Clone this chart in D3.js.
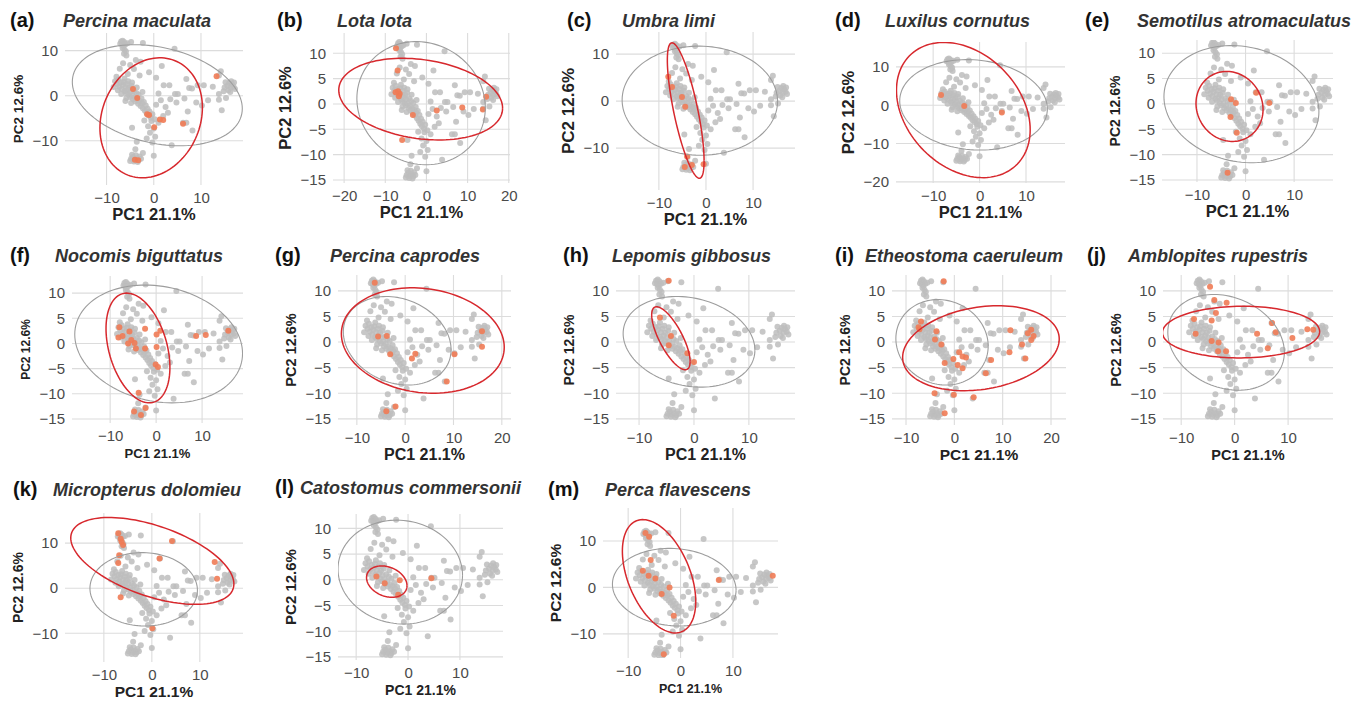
<!DOCTYPE html>
<html>
<head>
<meta charset="utf-8">
<script src="https://cdn.jsdelivr.net/npm/d3@7"></script>
<style>
    body { margin: 0; background: #fff; }
    svg text { font-family: "Liberation Sans", Arial, sans-serif; }
</style>
</head>
<body>
<div id="chart"></div>
<script>

// PC1 / PC2 scores of all sites (grey points, same in every panel)
var siteScores = [
    [-6.9,12.0],[-6.6,12.2],[-6.3,11.9],[-7.1,11.5],[-6.7,11.3],[-6.4,11.0],[-6.0,11.4],[-6.6,10.6],[-6.2,10.2],
    [-5.9,9.8],[-6.3,9.3],[-5.8,8.9],[-4.8,11.9],[-2.3,11.7],[-5.6,11.6],
    [4.4,10.4],[-3.8,7.9],[1.7,6.6],[-6.5,7.2],[-5.0,6.8],[-4.2,5.9],[-2.8,7.5],[-1.0,5.2],[-7.2,6.0],[-5.5,4.8],
    [-3.0,4.5],[0.5,4.0],
    [-8.2,3.2],[-7.8,2.6],[-7.5,3.6],[-7.3,2.0],[-7.0,2.9],[-6.8,1.5],[-6.6,2.4],[-6.4,3.1],[-6.2,1.0],[-6.0,1.9],
    [-5.9,0.6],[-5.7,2.6],[-5.5,1.3],[-5.3,0.2],[-5.2,1.8],[-5.0,-0.3],[-4.9,0.9],[-4.7,2.2],[-4.5,0.1],[-4.4,-0.8],
    [-4.2,1.1],[-4.0,-0.4],[-3.9,-1.3],[-3.7,0.6],[-3.5,-0.9],[-3.3,-1.8],[-3.2,0.2],[-3.0,-1.2],[-2.8,-2.3],
    [-2.6,-0.6],[-2.5,-1.7],[-2.3,-2.8],[-2.1,-1.4],[-1.9,-3.3],[-1.7,-2.2],[-1.5,-3.9],[-1.3,-2.9],[-1.1,-4.4],
    [-0.9,-3.5],[-0.6,-4.9],[-0.3,-4.1],[-0.5,-5.6],[0.2,-5.2],[-7.6,1.2],[-6.9,0.4],[-5.8,-0.5],[-4.8,-1.6],
    [-6.2,3.8],[-5.4,3.2],[-4.6,2.9],[-3.6,1.8],[-2.4,0.8],[-8.5,1.9],[-7.9,4.2],[-6.0,-1.2],
    [-1.2,-6.8],[0.0,-7.3],[-0.8,-8.2],[1.0,-6.0],[-2.0,-5.5],[-4.6,-7.1],[-3.6,-10.2],[-3.9,-11.9],[-2.3,-12.7],
    [-0.3,-10.4],[0.3,-9.1],[0.0,-13.3],[3.8,-11.0],[-1.5,-9.5],
    [-4.4,-13.6],[-4.0,-14.2],[-3.6,-13.9],[-3.2,-14.3],[-4.8,-14.0],[-4.2,-14.6],[-3.0,-13.5],[-3.8,-13.2],
    [-4.6,-13.1],[-2.7,-14.0],[-3.4,-14.7],[-5.0,-14.5],
    [2.1,2.3],[3.3,2.3],[4.5,0.4],[5.1,0.4],[6.9,3.7],[7.5,1.7],[8.1,1.6],[9.3,2.3],[10.6,2.3],[4.8,-1.5],
    [6.5,-0.6],[7.2,-3.5],[10.2,-2.2],[13.8,-0.9],[14.4,-3.2],[13.8,0.4],[6.2,-6.0],[6.9,-6.0],[8.2,-7.7],
    [1.5,-1.0],[2.5,-2.5],[1.0,0.5],[3.0,-3.8],[2.0,-4.5],[0.5,-2.0],[11.5,-1.0],[9.0,-1.5],[12.5,2.0],[3.5,-0.8],
    [13.8,4.5],[14.2,5.4],[15.2,3.0],[15.6,2.2],[16.0,2.8],[16.3,1.8],[16.6,2.5],[16.9,2.0],[17.2,1.5],[15.8,1.2],
    [16.4,3.2],[17.0,2.9],[15.0,1.8],[16.2,0.8],[15.3,-0.5],[14.8,1.0]
];

var panelLetters = ["(a)", "(b)", "(c)", "(d)", "(e)", "(f)", "(g)", "(h)", "(i)", "(j)", "(k)", "(l)", "(m)"];
var speciesNames = ["Percina maculata", "Lota lota", "Umbra limi", "Luxilus cornutus", "Semotilus atromaculatus",
    "Nocomis biguttatus", "Percina caprodes", "Lepomis gibbosus", "Etheostoma caeruleum", "Amblopites rupestris",
    "Micropterus dolomieu", "Catostomus commersonii", "Perca flavescens"];

// sites where each species was found (orange points)
var percinaMaculata = [[13.3,4.3],[-4.4,1.5],[-3.5,-0.5],[-1.4,-4.1],[-1.0,-4.3],[1.3,-5.3],[2.0,-5.4],[0.1,-7.0],[6.2,-6.2],[-4.0,-14.2],[-3.3,-14.3]];
var lotaLota = [[-7.4,11.0],[-7.0,6.6],[-6.9,2.5],[-6.5,2.0],[-6.7,1.5],[-7.5,2.3],[-3.3,-2.2],[2.5,-1.3],[8.7,-0.7],[13.7,-1.1],[14.5,1.4],[-5.9,-7.1]];
var umbraLimi = [[-8.0,5.2],[-7.2,3.0],[-5.1,0.9],[-4.4,-1.2],[-4.0,-11.8],[-3.0,-13.6],[-0.5,-13.4],[-4.5,-14.0]];
var luxilusCornutus = [[-8.3,2.7],[-3.3,-0.2],[4.8,-1.9]];
var semotilusAtromaculatus = [[2.2,2.2],[4.9,0.2],[-3.0,0.9],[-2.0,0.2],[-3.1,-2.6],[-1.8,-5.7],[-3.7,-13.6]];
var nocomisBiguttatus = [[-8.0,3.2],[-7.3,1.5],[-5.8,2.4],[-5.4,0.7],[-4.7,0.1],[-2.4,2.9],[-4.4,-1.0],[-2.4,-1.0],[0.1,1.8],
    [0.1,-0.7],[0.9,2.5],[-0.1,-4.2],[0.4,-4.7],[10.8,1.7],[8.7,1.5],[15.7,2.5],[-3.8,-9.8],[-4.8,-13.5],[-3.3,-14.2],
    [-2.3,-12.8],[-6.1,0.0],[-8.2,1.2]];
var percinaCaprodes = [[-6.3,11.6],[-5.6,1.1],[-3.8,1.2],[-3.1,-2.4],[1.4,-3.2],[2.1,-2.3],[10.2,-2.4],[8.6,-7.7],[15.9,2.1],[15.9,-0.9],[-2.0,-12.6],[-3.9,-13.5]];
var lepomisGibbosus = [[-4.6,12.0],[-6.2,4.8],[-4.2,1.2],[-4.6,-0.6],[-1.2,-2.2],[0.0,-3.9]];
var etheostomaCaeruleum = [[-2.2,11.9],[-6.9,4.0],[-7.4,2.9],[-7.2,2.5],[-3.7,2.1],[-4.0,0.5],[-2.7,-0.5],[-2.0,-4.1],[1.0,-2.0],
    [1.7,-2.8],[2.4,-3.0],[0.7,-4.5],[1.7,-5.1],[-0.2,-3.3],[7.6,-3.5],[6.5,-6.1],[11.6,2.3],[11.4,-2.0],[14.0,-0.5],
    [14.7,-3.2],[15.2,1.7],[15.9,2.4],[16.4,1.2],[15.9,0.4],[-4.1,-10.0],[-0.1,-10.3],[4.0,-10.8],[-2.0,-13.9]];
var amblopitesRupestris = [[-4.6,10.8],[-3.8,8.2],[-1.5,7.7],[-3.5,5.7],[-7.6,4.5],[-4.3,4.2],[-7.3,1.6],[-4.3,0.2],[-3.0,-0.1],
    [-3.1,-1.8],[-1.6,-1.8],[4.2,1.6],[6.2,-1.2],[7.0,3.7],[7.7,1.9],[10.8,0.8],[13.6,2.5],[14.7,2.4]];
var micropterusDolomieu = [[-7.0,12.2],[-6.5,11.0],[-6.3,10.3],[-6.0,9.6],[-6.8,7.3],[-7.0,5.6],[-6.5,-2.0],[4.2,10.5],[1.6,6.6],[13.1,5.8],[13.6,2.1],[0.1,-8.9]];
var catostomusCommersonii = [[-6.1,0.65],[-4.5,-0.65],[-1.6,-0.1],[-1.9,-2.9],[4.5,0.3]];
var percaFlavescens = [[-6.7,11.7],[-6.0,10.9],[-5.7,5.9],[-7.2,3.6],[-6.1,2.5],[-4.8,1.9],[-2.1,0.0],[-3.6,-1.4],[-1.3,-6.1],[7.3,1.6],[17.6,2.5],[-3.2,-14.4]];

var speciesSites = [percinaMaculata, lotaLota, umbraLimi, luxilusCornutus, semotilusAtromaculatus, nocomisBiguttatus,
    percinaCaprodes, lepomisGibbosus, etheostomaCaeruleum, amblopitesRupestris, micropterusDolomieu,
    catostomusCommersonii, percaFlavescens];

// ellipses: [centre PC1, centre PC2, half width, half height, PC1 at the top of the ellipse]
var otherEllipses = [
    [0.75,0.1,18.0,11.2,-4.0], [-1.3,0.15,15.6,12.15,-2.5], [-1.3,0.1,16.5,11.6,-1.5], [-1.3,0.1,15.9,11.8,-2.7],
    [-0.85,-0.05,15.95,11.55,-2.9], [0.55,-0.1,18.25,11.7,-2.4], [-1.65,0.25,11.15,8.65,-3.9], [-0.9,0.05,12.0,8.85,-3.1],
    [-2.55,-0.05,9.55,8.35,-3.4], [-1.6,-0.05,10.9,9.35,-3.9], [-1.7,-0.25,11.2,8.15,-2.0], [-1.5,1.5,12.0,10.1,-2.2],
    [-1.2,0.05,11.8,8.35,-2.1]
];
var speciesEllipses = [
    [-0.55,-4.9,10.85,13.3,1.3], [-1.4,0.95,19.9,8.05,-5.8], [-4.3,-2.0,3.9,14.4,-7.2], [-3.5,-1.25,14.4,17.65,-7.7],
    [-3.3,-0.5,6.9,6.9,-3.9], [-3.95,-0.9,6.95,10.9,-6.4], [3.65,0.3,16.85,10.3,1.5], [-4.2,0.75,3.5,6.15,-6.8],
    [5.5,-1.2,16.2,8.3,9.0], [1.2,1.95,14.7,5.05,1.5], [0.1,6.05,17.0,9.65,-8.9], [-4.1,-0.35,3.9,3.05,-5.1],
    [-4.1,2.4,7.0,12.2,-7.2]
];

// axis ranges and ticks
var xDomains = [[-18.8,18.9],[-22.7,20.3],[-19.1,18.9],[-18.0,18.4],[-17.2,18.0],[-18.3,18.9],[-13.9,21.9],
    [-14.2,18.4],[-12.9,23.1],[-13.4,18.4],[-18.1,19.0],[-13.5,18.3],[-14.8,18.6]];
var yDomains = [[-19.8,13.9],[-15.6,14.0],[-18.9,14.7],[-20.3,16.5],[-15.4,12.6],[-15.8,13.4],[-16.2,13.1],
    [-16.2,13.1],[-16.2,13.1],[-16.2,13.1],[-16.4,16.7],[-15.6,12.8],[-15.2,17.1]];
var ticksA = [-10, 0, 10];
var ticksB = [-20, -10, 0, 10, 20];
var ticksC = [-10, 0, 10, 20];
var ticksD = [-20, -10, 0, 10];
var ticksFive = [-15, -10, -5, 0, 5, 10];
var xTicks = [ticksA, ticksB, ticksA, ticksA, ticksA, ticksA, ticksC, ticksA, ticksC, ticksA, ticksA, ticksA, ticksA];
var yTicks = [ticksA, ticksFive, ticksA, ticksD, ticksFive, ticksFive, ticksFive, ticksFive, ticksFive, ticksFive, ticksA, ticksFive, ticksA];

var xTitle = "PC1 21.1%";
var yTitle = "PC2 12.6%";


// layout: plot box [left, top, right, bottom], title [letter x, name x, baseline],
// axis title sizes [x title, y title] (the panels were scaled unevenly)
var plotBoxes = [[65,33,243,185],[333,33,510,183],[616,32,795,190],[896,42,1065,183],[1162,40,1333,182],
    [72,276,243,423],[338,275,511,425],[616,275,795,425],[892,275,1066,425],[1163,275,1333,425],
    [65,513,243,662],[338,514,503,660],[603,508,778,658]];
var titleSpots = [[10,63,27],[277,337,27],[567,622,27],[835,885,27],[1085,1137,27],
    [10,55,262],[275,330,262],[563,612,262],[835,865,262],[1087,1128,262],
    [13,53,496],[275,300,494],[548,605,496]];
var axisTitleSizes = [[16.5,13.5],[16.5,16.5],[16.5,17],[16.5,16.5],[16.5,14],
    [13,12],[16,14.5],[16,14],[15.5,14],[14.5,14.5],
    [15.5,14],[14,15],[12.5,15.5]];


/*
 *  PcaPanel - one small multiple
 */

PcaPanel = function(_svg, _i) {
    this.svg = _svg;
    this.i = _i;
    this.initVis();
}

PcaPanel.prototype.initVis = function() {
    var vis = this;
    var b = plotBoxes[vis.i];

    vis.x = d3.scaleLinear().domain(xDomains[vis.i]).range([b[0], b[2]]);
    vis.y = d3.scaleLinear().domain(yDomains[vis.i]).range([b[3], b[1]]);

    vis.g = vis.svg.append("g").attr("class", "panel");

    vis.g.append("clipPath").attr("id", "clip" + vis.i)
        .append("rect")
        .attr("x", b[0]).attr("y", b[1])
        .attr("width", b[2] - b[0]).attr("height", b[3] - b[1]);

    vis.updateVis();
}

PcaPanel.prototype.ellipsePath = function(e) {
    var vis = this;
    var delta = Math.acos(Math.max(-1, Math.min(1, (e[4] - e[0]) / e[2])));
    var pts = d3.range(0, 121).map(function(k) {
        var t = k / 120 * 2 * Math.PI;
        return [e[0] + e[2] * Math.cos(t), e[1] + e[3] * Math.cos(t - delta)];
    });
    return d3.line()
        .x(function(d) { return vis.x(d[0]); })
        .y(function(d) { return vis.y(d[1]); })(pts);
}

PcaPanel.prototype.updateVis = function() {
    var vis = this;
    var b = plotBoxes[vis.i];
    var ts = titleSpots[vis.i];
    var sz = axisTitleSizes[vis.i];

    // grid
    vis.g.selectAll(".vgrid")
        .data(xTicks[vis.i])
        .enter().append("line")
        .attr("x1", function(d) { return vis.x(d); })
        .attr("x2", function(d) { return vis.x(d); })
        .attr("y1", b[1]).attr("y2", b[3])
        .attr("stroke", "#dcdcdc").attr("stroke-width", 1.1);

    vis.g.selectAll(".hgrid")
        .data(yTicks[vis.i])
        .enter().append("line")
        .attr("y1", function(d) { return vis.y(d); })
        .attr("y2", function(d) { return vis.y(d); })
        .attr("x1", b[0]).attr("x2", b[2])
        .attr("stroke", "#dcdcdc").attr("stroke-width", 1.1);

    var plot = vis.g.append("g").attr("clip-path", "url(#clip" + vis.i + ")");

    plot.selectAll(".site")
        .data(siteScores)
        .enter().append("circle")
        .attr("cx", function(d) { return vis.x(d[0]); })
        .attr("cy", function(d) { return vis.y(d[1]); })
        .attr("r", 3)
        .style("fill", "#bdbdbd")
        .style("fill-opacity", 0.85);

    plot.selectAll(".present")
        .data(speciesSites[vis.i])
        .enter().append("circle")
        .attr("cx", function(d) { return vis.x(d[0]); })
        .attr("cy", function(d) { return vis.y(d[1]); })
        .attr("r", 3)
        .style("fill", "#f07b55")
        .style("fill-opacity", 0.9);

    plot.append("path")
        .attr("d", vis.ellipsePath(otherEllipses[vis.i]))
        .attr("fill", "none")
        .attr("stroke", "#9d9d9d")
        .attr("stroke-width", 1.1);

    plot.append("path")
        .attr("d", vis.ellipsePath(speciesEllipses[vis.i]))
        .attr("fill", "none")
        .attr("stroke", "#d7282d")
        .attr("stroke-width", 1.5);

    // axes (labels only)
    var xAxis = d3.axisBottom(vis.x).tickValues(xTicks[vis.i]).tickSize(0).tickPadding(7);
    var gx = vis.g.append("g")
        .attr("transform", "translate(0," + b[3] + ")")
        .call(xAxis);
    gx.select(".domain").remove();
    gx.selectAll("text").attr("fill", "#4a4a4a").style("font-size", "15px");

    var yAxis = d3.axisLeft(vis.y).tickValues(yTicks[vis.i]).tickSize(0).tickPadding(7);
    var gy = vis.g.append("g")
        .attr("transform", "translate(" + b[0] + ",0)")
        .call(yAxis);
    gy.select(".domain").remove();
    gy.selectAll("text").attr("fill", "#4a4a4a").style("font-size", "15px");

    vis.g.append("text")
        .attr("x", (b[0] + b[2]) / 2)
        .attr("y", b[3] + 35)
        .attr("text-anchor", "middle")
        .style("font-size", sz[0] + "px").style("font-weight", "bold")
        .attr("fill", "#222")
        .text(xTitle);

    vis.g.append("text")
        .attr("transform", "translate(" + (b[0] - 42) + "," + ((b[1] + b[3]) / 2) + ") rotate(-90)")
        .attr("text-anchor", "middle")
        .style("font-size", sz[1] + "px").style("font-weight", "bold")
        .attr("fill", "#222")
        .text(yTitle);

    // title
    vis.g.append("text")
        .attr("x", ts[0]).attr("y", ts[2])
        .style("font-size", "20px").style("font-weight", "bold")
        .attr("fill", "#111")
        .text(panelLetters[vis.i]);

    vis.g.append("text")
        .attr("x", ts[1]).attr("y", ts[2])
        .style("font-size", "18px").style("font-weight", "bold").style("font-style", "italic")
        .attr("fill", "#333")
        .text(speciesNames[vis.i]);
}


var svg = d3.select("#chart")
    .append("svg")
    .attr("width", 1352)
    .attr("height", 706);

speciesNames.forEach(function(d, i) {
    new PcaPanel(svg, i);
});

</script>
</body>
</html>
